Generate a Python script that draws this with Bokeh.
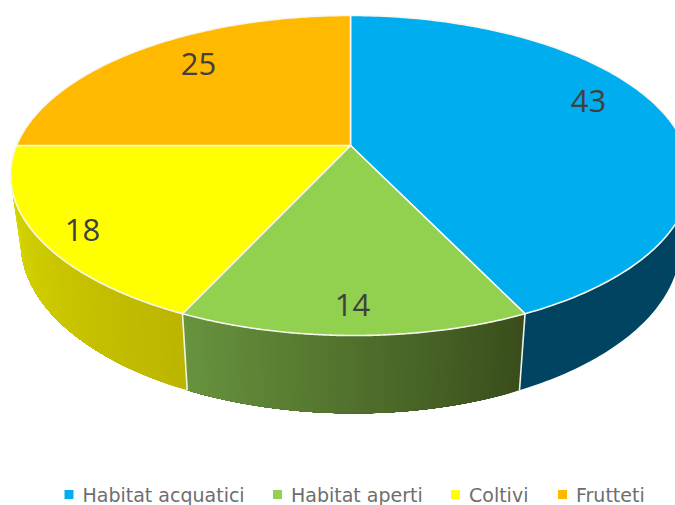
import numpy as np
from bokeh.core.properties import value
from bokeh.embed import file_html
from bokeh.models import Range1d
from bokeh.plotting import figure
from bokeh.resources import INLINE

# Share of each habitat type
categories = ["Habitat acquatici", "Habitat aperti", "Coltivi", "Frutteti"]
shares = [43, 14, 18, 25]
top_colors = ["#00AEEF", "#92D050", "#FFFF00", "#FFB900"]
side_left = [(0, 68, 98), (104, 148, 62), (216, 216, 0), (200, 140, 0)]
side_right = [(0, 68, 98), (58, 78, 28), (188, 182, 0), (200, 140, 0)]

# Placement of the drawn items, in page pixels
label_xy = [(588, 100), (352, 304), (82, 229), (198, 63)]
legend_x = [68.5, 277, 455, 562]
legend_y = 494

# Perspective disc: (a, b) half-axes, c foreshortening, (cx, cy) hub, lean of the near rim
TOP = dict(cx=350.0, cy=145.0, a=334.0, b=154.4, c=0.1875, lean=4.0)
BOTTOM = dict(cx=350.0, cy=211.0, a=324.0, b=164.0, c=0.1875, lean=3.5)


def disc(frac, d):
    """Page position of the rim at a clockwise fraction of the circle."""
    ang = 2 * np.pi * np.asarray(frac, dtype=float)
    u, v = np.sin(ang), np.cos(ang)
    w = 1 + d["c"] * v
    near = np.minimum(v, 0.0) ** 2
    return d["cx"] + d["a"] * u / w + d["lean"] * near, d["cy"] - d["b"] * v / w


p = figure(
    width=675, height=505, output_backend="svg", toolbar_location=None,
    x_range=Range1d(0, 675), y_range=Range1d(505, 0),
    min_border=0, outline_line_color=None, background_fill_color="white",
)
p.axis.visible = False
p.grid.visible = False

total = sum(shares)
edges = np.cumsum([0] + shares) / total

# The rim is visible only on the near side, between the two silhouette points
tangent = np.arcsin(TOP["c"]) / (2 * np.pi)
rim_start, rim_end = 0.25 + tangent, 0.75 - tangent


def wall(f0, f1):
    """Closed outline of the rim between two fractions."""
    steps = np.linspace(f0, f1, max(2, int((f1 - f0) * 400)))
    tx, ty = disc(steps, TOP)
    bx, by = disc(steps, BOTTOM)
    return np.concatenate([tx, bx[::-1]]), np.concatenate([ty, by[::-1]])


for i, (f0, f1) in enumerate(zip(edges[:-1], edges[1:])):
    lo, hi = max(f0, rim_start), min(f1, rim_end)
    if lo >= hi:
        continue
    left, right = np.array(side_left[i], float), np.array(side_right[i], float)
    if side_left[i] == side_right[i]:
        c = left.astype(int)
        wx, wy = wall(lo, hi)
        p.patch(wx, wy, fill_color=f"#{c[0]:02x}{c[1]:02x}{c[2]:02x}", line_color=None)
        continue
    # Shaded bands painted on top of one another, running right to left along the rim
    bands = 70
    marks = np.linspace(lo, hi, bands + 1)
    for k in range(bands):
        t = k / (bands - 1)
        r, g, b = (right + (left - right) * t).astype(int)
        wx, wy = wall(marks[k], hi)
        p.patch(wx, wy, fill_color=f"#{r:02x}{g:02x}{b:02x}", line_color=None)

# Light seams where the wedges meet on the rim
for f in edges[1:3]:
    sx0, sy0 = disc(f, TOP)
    sx1, sy1 = disc(f, BOTTOM)
    p.line([sx0, sx1], [sy0, sy1], line_color="#f2f2e8", line_width=1.6)

# Top face wedges
for i, (f0, f1) in enumerate(zip(edges[:-1], edges[1:])):
    arc = np.linspace(f0, f1, 160)
    ax, ay = disc(arc, TOP)
    xs = np.concatenate([[TOP["cx"]], ax])
    ys = np.concatenate([[TOP["cy"]], ay])
    p.patch(xs, ys, fill_color=top_colors[i], line_color="#f7f7f0", line_width=1.6,
            line_join="round")

# Value labels
for (lx, ly), val in zip(label_xy, shares):
    p.text([lx], [ly], text=[str(val)], text_font=value("Open Sans"),
           text_font_size="31px", text_color="#404040",
           text_align="center", text_baseline="middle")

# Legend row
for lx, name, col in zip(legend_x, categories, top_colors):
    p.scatter([lx], [legend_y], marker="square", size=9, fill_color=col, line_color=None)
    p.text([lx + 13.5], [legend_y], text=[name], text_font=value("DejaVu Sans"),
           text_font_size="19px", text_color="#6e6e6e",
           text_align="left", text_baseline="middle")

open("out.html", "w").write(file_html(p, INLINE))
